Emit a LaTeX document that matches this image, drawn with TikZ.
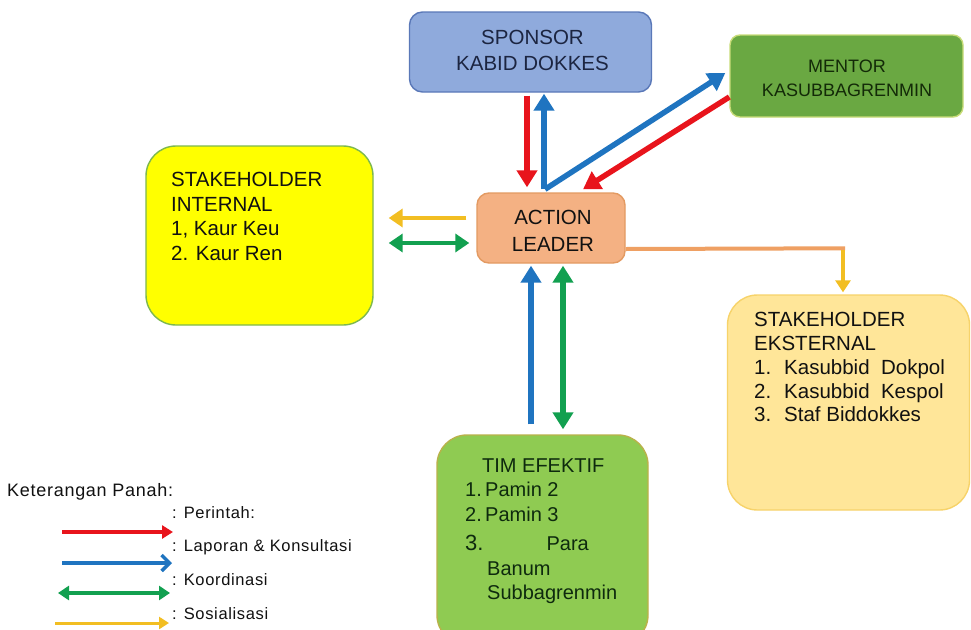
\documentclass[tikz,border=0pt]{standalone}
\usepackage{fontspec}
\setmainfont{Liberation Sans}
\newfontfamily\legfont[LetterSpace=4]{Liberation Sans}
\usetikzlibrary{arrows.meta,calc}
\definecolor{sponsorfill}{HTML}{8FAADC}
\definecolor{sponsordraw}{HTML}{5A78B8}
\definecolor{sponsortext}{HTML}{1C2541}
\definecolor{mentorfill}{HTML}{6AA842}
\definecolor{mentordraw}{HTML}{C8DC78}
\definecolor{mentortext}{HTML}{132A08}
\definecolor{intfill}{HTML}{FFFF00}
\definecolor{intdraw}{HTML}{7DB84E}
\definecolor{actfill}{HTML}{F4B183}
\definecolor{actdraw}{HTML}{E39A62}
\definecolor{extfill}{HTML}{FFE699}
\definecolor{extdraw}{HTML}{F7D36A}
\definecolor{timfill}{HTML}{8FCB52}
\definecolor{timdraw}{HTML}{B9B24A}
\definecolor{timtext}{HTML}{0E2A0E}
\definecolor{cred}{HTML}{E8141C}
\definecolor{cblue}{HTML}{1F74C0}
\definecolor{cgreen}{HTML}{12A050}
\definecolor{cyellow}{HTML}{F2BE22}
\definecolor{corange}{HTML}{EFA063}
\definecolor{txt}{HTML}{111111}
\tikzset{
  box/.style={draw, line width=1.4pt, inner sep=0pt},
  boxtext/.style={align=left, inner sep=0pt, text=txt},
  ctext/.style={align=center, inner sep=0pt, text=txt},
  big/.style={line width=5.5pt, -{Triangle[length=17pt,width=20pt]}},
  bigboth/.style={line width=5.5pt, {Triangle[length=17pt,width=20pt]}-{Triangle[length=17pt,width=20pt]}},
  legtext/.style={anchor=west, inner sep=0pt, text=txt, font=\legfont\fontsize{16.5}{18}\selectfont}
}
\begin{document}
\begin{tikzpicture}[x=1pt,y=-1pt]
\clip (0,0) rectangle (971,629);
\fill[white] (0,0) rectangle (971,629);

% boxes
\node[box, fill=sponsorfill, draw=sponsordraw, rounded corners=13pt, minimum width=242pt, minimum height=80pt] (sponsor) at (530.5,52) {};
\node[box, fill=mentorfill, draw=mentordraw, rounded corners=10pt, minimum width=233pt, minimum height=82pt] (mentor) at (846.5,76) {};
\node[box, fill=intfill, draw=intdraw, rounded corners=30pt, minimum width=227pt, minimum height=179pt] (internal) at (259.5,235.5) {};
\node[box, fill=actfill, draw=actdraw, rounded corners=12pt, minimum width=148pt, minimum height=70pt] (action) at (551,228) {};
\node[box, fill=extfill, draw=extdraw, rounded corners=30pt, minimum width=242pt, minimum height=215pt] (eksternal) at (848.5,402.5) {};
\node[box, fill=timfill, draw=timdraw, rounded corners=30pt, minimum width=211pt, minimum height=210pt] (tim) at (542.5,540) {};

% box texts
\node[ctext, text=sponsortext, font=\fontsize{20.5}{26}\selectfont] (sponsortxt) at (532.5,50.4) {SPONSOR\\KABID DOKKES};
\node[ctext, text=mentortext, font=\fontsize{18}{24}\selectfont] (mentortxt) at (847,78.5) {MENTOR\\KASUBBAGRENMIN};
\node[ctext, font=\fontsize{20.5}{27}\selectfont] (actiontxt) at (553,231) {ACTION\\LEADER};
\node[boxtext, anchor=north west, font=\fontsize{20.5}{24.5}\selectfont] (inttxt) at (171,172.3)
  {STAKEHOLDER\\INTERNAL\\1, Kaur Keu\\2. Kaur Ren};
\node[boxtext, anchor=north west, font=\fontsize{20.5}{23.75}\selectfont] (exttxt) at (754,312.3)
  {STAKEHOLDER\\EKSTERNAL\\\makebox[30pt][l]{1.}Kasubbid\ \ Dokpol\\\makebox[30pt][l]{2.}Kasubbid\ \ Kespol\\\makebox[30pt][l]{3.}Staf Biddokkes};
\node[boxtext, anchor=north west, text=timtext, font=\fontsize{20}{24.5}\selectfont] (timtxt) at (465,458.5)
  {\hspace*{17pt}TIM EFEKTIF\\1.\,Pamin 2\\2.\,Pamin 3\\[5pt]{\fontsize{22}{24}\selectfont 3.}\hspace{63pt}Para\\\hspace*{22pt}Banum\\\hspace*{22pt}Subbagrenmin};

% sponsor arrows
\draw[big, cred, shorten <=3pt] ([xshift=-3.5pt]sponsor.south) -- ([xshift=-24pt,yshift=5pt]action.north);
\draw[big, cblue] ([xshift=-7pt,yshift=3pt]action.north) -- ([xshift=13.5pt,yshift=-1pt]sponsor.south);
% mentor arrows
\draw[big, cblue] ([xshift=-6pt,yshift=3pt]action.north) -- ([xshift=-4pt,yshift=3pt]mentor.west);
\draw[big, cred] ([yshift=-21pt]mentor.west) -- ([xshift=32pt,yshift=3pt]action.north);
% internal arrows
\draw[cyellow, line width=4.5pt, -{Triangle[length=14pt,width=18pt]}] ([xshift=-10pt,yshift=10pt]action.west) -- ([xshift=15pt,yshift=17.5pt]internal.east);
\draw[cgreen, line width=4.5pt, {Triangle[length=14pt,width=18pt]}-{Triangle[length=14pt,width=18pt]}] ([xshift=15pt,yshift=-7.5pt]internal.east) -- ([xshift=-7pt,yshift=-15pt]action.west);
% tim arrows
\draw[big, cblue] ([xshift=-11.5pt,yshift=10pt]tim.north) -- ([xshift=-20pt,yshift=-2pt]action.south);
\draw[bigboth, cgreen] ([xshift=20.5pt,yshift=5pt]tim.north) -- ([xshift=12pt,yshift=-2pt]action.south);
% eksternal connector
\coordinate (bend) at ($(eksternal.north)+(-5.5,-46)$);
\draw[corange, line width=4pt] ([yshift=-21pt]action.east) -- ([xshift=2pt]bend);
\draw[cyellow, line width=4pt, -{Triangle[length=12pt,width=15pt]}] ([yshift=-2pt]bend) -- ([xshift=-5.5pt,yshift=2pt]eksternal.north);

% legend
\node[legtext, font=\legfont\fontsize{18}{20}\selectfont] (legtitle) at (7,492) {Keterangan\ Panah:};
\node[legtext] (l1) at (172,513) {: Perintah:};
\node[legtext] (l2) at (172,547) {: Laporan \& Konsultasi};
\node[legtext] (l3) at (172,580) {: Koordinasi};
\node[legtext] (l4) at (172,614) {: Sosialisasi};
\coordinate (r1) at (62,532); \coordinate (r2) at (173,532);
\coordinate (b1) at (62,563); \coordinate (b2) at (172,563);
\coordinate (g1) at (58,593); \coordinate (g2) at (170,593);
\coordinate (y1) at (55,623); \coordinate (y2) at (169,623);
\draw[cred, line width=4pt, -{Triangle[length=11pt,width=13pt]}] (r1) -- (r2);
\draw[cblue, line width=3.5pt, -{Straight Barb[length=8pt,width=16pt]}] (b1) -- (b2);
\draw[cgreen, line width=4.5pt, {Triangle[length=11pt,width=14pt]}-{Triangle[length=11pt,width=14pt]}] (g1) -- (g2);
\draw[cyellow, line width=3pt, -{Triangle[length=10pt,width=12pt]}] (y1) -- (y2);
\end{tikzpicture}
\end{document}
